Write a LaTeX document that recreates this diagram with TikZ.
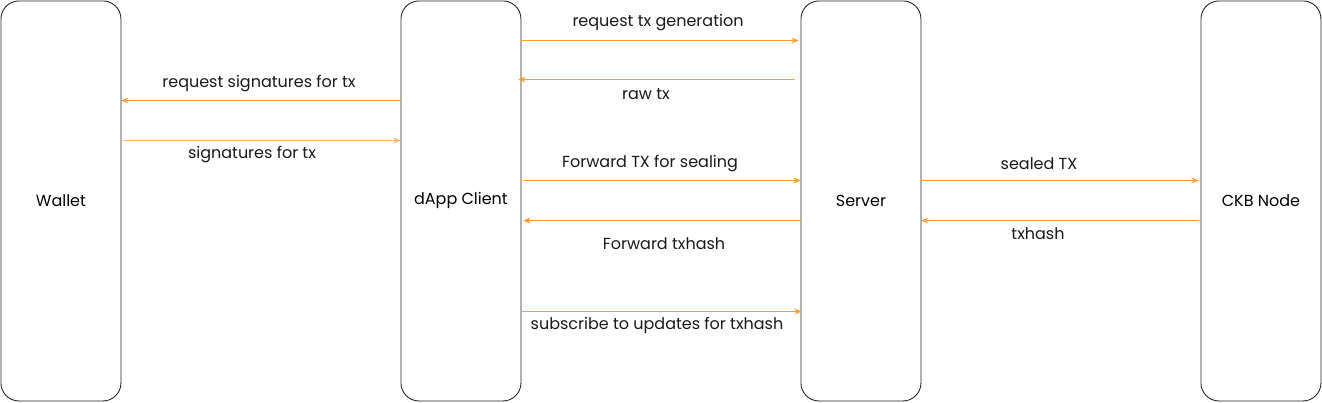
\documentclass[tikz,border=0pt]{standalone}
\usepackage{fontspec}
\setmainfont{Poppins}
\usetikzlibrary{arrows.meta}
\definecolor{arr}{HTML}{FF9A33}
\definecolor{arrl}{HTML}{FFB366}
\tikzset{
  actor/.style={draw=black!85, line width=0.9pt, rounded corners=18pt, minimum width=120pt, minimum height=400pt, inner sep=0pt, anchor=north west, font=\fontsize{16}{19}\selectfont},
  msg/.style={draw=arr, line width=0.9pt, -{Stealth[length=7pt,width=6pt,inset=2.5pt]}},
  lbl/.style={font=\fontsize{16}{19}\selectfont, inner sep=0pt, text=black!90, yshift=-2pt}
}
\begin{document}
\begin{tikzpicture}[x=1pt,y=-1pt]
\useasboundingbox (0,0) rectangle (1322,402);
\node[actor] (wallet) at (0.5,0.5) {Wallet};
\node[actor] (dapp) at (400.5,0.5) {dApp Client};
\node[actor] (server) at (800.5,0.5) {Server};
\node[actor] (ckb) at (1200.5,0.5) {CKB Node};
% dApp -> Server
\draw[msg] ([yshift=-40pt]dapp.north east) -- ([yshift=-40pt,xshift=-2pt]server.north west);
\node[lbl] (l1) at (658,21) {request tx generation};
\draw[msg] ([yshift=-79pt,xshift=-6pt]server.north west) -- ([yshift=-79pt,xshift=-3pt]dapp.north east);
\node[lbl] (l2) at (646,92) {raw tx};
% dApp <-> Wallet
\draw[msg] ([yshift=-100pt]dapp.north west) -- ([yshift=-100pt]wallet.north east);
\node[lbl] (l3) at (259,82) {request signatures for tx};
\draw[msg,draw=arrl] ([yshift=-140pt,xshift=2pt]wallet.north east) -- ([yshift=-140pt]dapp.north west);
\node[lbl] (l4) at (252,153) {signatures for tx};
% dApp <-> Server
\draw[msg] ([yshift=-180pt,xshift=2pt]dapp.north east) -- ([yshift=-180pt]server.north west);
\node[lbl] (l5) at (650,162) {Forward TX for sealing};
\draw[msg] ([yshift=-220pt]server.north west) -- ([yshift=-220pt,xshift=2pt]dapp.north east);
\node[lbl] (l6) at (664,242) {Forward txhash};
\draw[msg] ([yshift=-311pt]dapp.north east) -- ([yshift=-311pt,xshift=1pt]server.north west);
\node[lbl] (l7) at (657,323) {subscribe to updates for txhash};
% Server <-> CKB
\draw[msg] ([yshift=-180pt]server.north east) -- ([yshift=-180pt,xshift=-2pt]ckb.north west);
\node[lbl] (l8) at (1039,162) {sealed TX};
\draw[msg] ([yshift=-220pt,xshift=-2pt]ckb.north west) -- ([yshift=-220pt]server.north east);
\node[lbl] (l9) at (1038,232) {txhash};
\end{tikzpicture}
\end{document}
